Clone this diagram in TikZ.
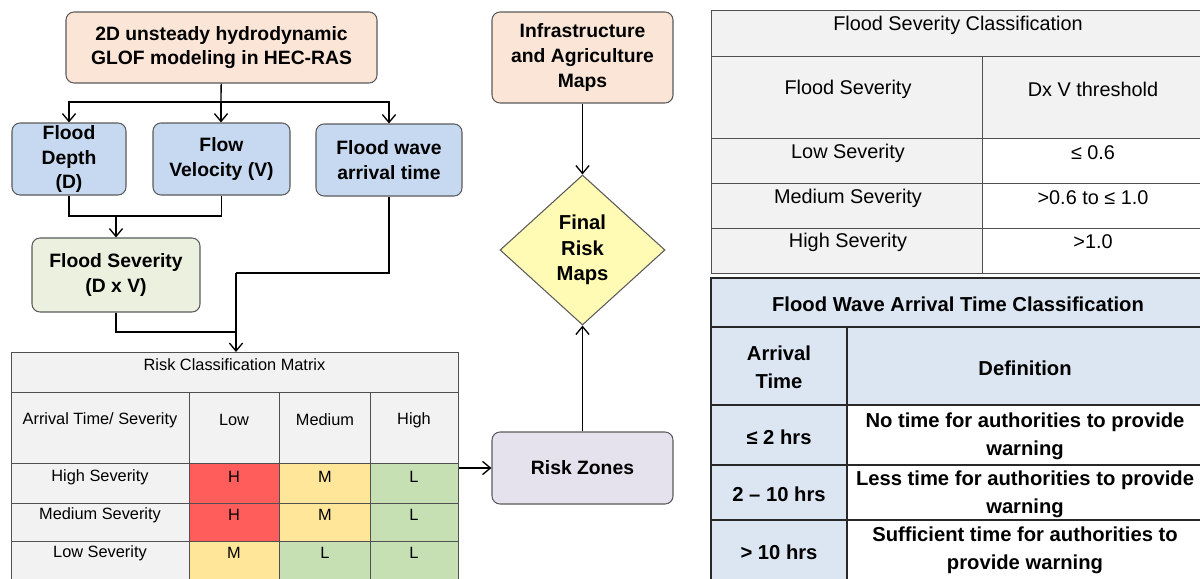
\documentclass[tikz,border=0pt]{standalone}
\usepackage{fontspec}
\setmainfont{Liberation Sans}
\usetikzlibrary{arrows.meta,shapes.geometric}
\definecolor{peach}{RGB}{251,229,214}
\definecolor{boxblue}{RGB}{198,217,241}
\definecolor{sevgreen}{RGB}{235,241,222}
\definecolor{zonelilac}{RGB}{229,225,237}
\definecolor{finalyel}{RGB}{255,250,180}
\definecolor{boxline}{RGB}{90,90,90}
\definecolor{cellgrey}{RGB}{242,242,242}
\definecolor{riskh}{RGB}{255,92,92}
\definecolor{riskm}{RGB}{255,230,153}
\definecolor{riskl}{RGB}{198,224,180}
\definecolor{wavecell}{RGB}{220,230,242}
\begin{document}
\begin{tikzpicture}[x=0.2mm,y=-0.2mm,
  flow/.style={rounded corners=1.6mm,draw=boxline,line width=0.6pt,align=center,inner sep=1pt,
    font=\fontsize{11}{14}\selectfont\bfseries},
  link/.style={line width=0.75pt,draw=black},
  tip/.style={-{Straight Barb[length=4.5pt,width=7.5pt]}},
  gridline/.style={draw={rgb,255:red,80;green,80;blue,80},line width=0.55pt},
  heavyline/.style={draw={rgb,255:red,40;green,40;blue,40},line width=1.1pt},
  rcm/.style={font=\fontsize{9.3}{11}\selectfont,inner sep=0pt},
  fsc/.style={font=\fontsize{11.3}{13}\selectfont,inner sep=0pt},
  fwa/.style={font=\fontsize{11.5}{16}\selectfont\bfseries,align=center,inner sep=0pt}]
 \useasboundingbox (0,0) rectangle (1200,578);
 % flow chart
 \node (box top) at (221.5,47.5) [flow,fill=peach,minimum width=62.2mm,minimum height=14.2mm] {2D unsteady hydrodynamic\\GLOF modeling in HEC-RAS};
 \node (box depth) at (69,159) [flow,fill=boxblue,minimum width=22.8mm,minimum height=14.4mm] {Flood\\Depth\\(D)};
 \node (box vel) at (221.5,159) [flow,fill=boxblue,minimum width=27.4mm,minimum height=14.4mm] {Flow\\Velocity (V)};
 \node (box wave) at (389,160) [flow,fill=boxblue,minimum width=29.2mm,minimum height=14.4mm] {Flood wave\\arrival time};
 \node (box sev) at (116,275) [flow,fill=sevgreen,minimum width=33.6mm,minimum height=14.8mm] {Flood Severity\\(D x V)};
 \node (box infra) at (582.5,57.5) [flow,fill=peach,minimum width=36.2mm,minimum height=18.2mm] {Infrastructure\\and Agriculture\\Maps};
 \node (box final) at (582.5,250) [diamond,draw=boxline,line width=0.6pt,fill=finalyel,minimum width=33mm,minimum height=30mm,inner sep=0pt,align=center,font=\fontsize{11.5}{14.5}\selectfont\bfseries] {Final\\Risk\\Maps};
 \node (box zones) at (582.5,468) [flow,fill=zonelilac,minimum width=36.2mm,minimum height=14.4mm] {Risk Zones};
 \coordinate (split) at (221,102);
 \coordinate (join a) at (116,216);
 \coordinate (join b) at (236,273);
 \coordinate (join c) at (236,332);
 \coordinate (rcm in) at (236,352);
 \coordinate (rcm out) at (458,468);
 \draw[link] (box top) -- (split);
 \draw[link,tip] (split) -| (box depth);
 \draw[link,tip] (split) -- (split |- box vel.north);
 \draw[link,tip] (split) -| (box wave);
 \draw[link] (box depth.south) |- (join a) -| (box vel.south);
 \draw[link,tip] (join a) -- (box sev);
 \draw[link] (box wave.south) |- (join b);
 \draw[link] (box sev.south) |- (join c);
 \draw[link,tip] (join b) -- (rcm in);
 \draw[link,tip] (rcm out) -- (box zones);
 \draw[link,tip] (box infra) -- (box final);
 \draw[link,tip] (box zones) -- (box final);
 % risk classification matrix
 \fill[cellgrey] (11,352) rectangle (458,463);
 \fill[cellgrey] (11,463) rectangle (189,580);
 \fill[riskh] (189,463) rectangle (279,541);
 \fill[riskm] (189,541) rectangle (279,580);
 \fill[riskm] (279,463) rectangle (370,541);
 \fill[riskl] (279,541) rectangle (370,580);
 \fill[riskl] (370,463) rectangle (458,580);
 \draw[gridline] (11,352) rectangle (458,580);
 \draw[gridline] (11,392) -- (458,392) (11,463) -- (458,463) (11,503) -- (458,503) (11,541) -- (458,541);
 \draw[gridline] (189,392) -- (189,580) (279,392) -- (279,580) (370,392) -- (370,580);
 \node (rcm 1) at (234.5,365) [rcm] {Risk Classification Matrix};
 \node (rcm 2) at (100,420) [rcm] {Arrival Time/ Severity};
 \node (rcm 3) at (234,420) [rcm] {Low};
 \node (rcm 4) at (325,420) [rcm] {Medium};
 \node (rcm 5) at (414,420) [rcm] {High};
 \node (rcm 6) at (100,477) [rcm] {High Severity};
 \node (rcm 7) at (234,477) [rcm] {H};
 \node (rcm 8) at (325,477) [rcm] {M};
 \node (rcm 9) at (414,477) [rcm] {L};
 \node (rcm 10) at (100,515) [rcm] {Medium Severity};
 \node (rcm 11) at (234,515) [rcm] {H};
 \node (rcm 12) at (325,515) [rcm] {M};
 \node (rcm 13) at (414,515) [rcm] {L};
 \node (rcm 14) at (100,553) [rcm] {Low Severity};
 \node (rcm 15) at (234,553) [rcm] {M};
 \node (rcm 16) at (325,553) [rcm] {L};
 \node (rcm 17) at (414,553) [rcm] {L};
 % flood severity classification
 \fill[cellgrey] (711,10) rectangle (1205,138);
 \fill[cellgrey] (711,138) rectangle (982,273);
 \draw[gridline] (711,10) rectangle (1205,273);
 \draw[gridline] (711,56) -- (1205,56) (711,138) -- (1205,138) (711,183) -- (1205,183) (711,228) -- (1205,228);
 \draw[gridline] (982,56) -- (982,273);
 \node (fsc 1) at (958,25) [fsc] {Flood Severity Classification};
 \node (fsc 2) at (848,89) [fsc] {Flood Severity};
 \node (fsc 3) at (1093,89) [fsc] {Dx V threshold};
 \node (fsc 4) at (848,153) [fsc] {Low Severity};
 \node (fsc 5) at (1093,153) [fsc] {≤ 0.6};
 \node (fsc 6) at (848,198) [fsc] {Medium Severity};
 \node (fsc 7) at (1093,198) [fsc] {>0.6 to ≤ 1.0};
 \node (fsc 8) at (848,242) [fsc] {High Severity};
 \node (fsc 9) at (1093,242) [fsc] {>1.0};
 % flood wave arrival time classification
 \fill[wavecell] (711,278) rectangle (1205,405);
 \fill[wavecell] (711,405) rectangle (847,580);
 \draw[heavyline] (711,278) rectangle (1205,580);
 \draw[heavyline] (711,327) -- (1205,327) (711,405) -- (1205,405) (711,465) -- (1205,465) (711,520) -- (1205,520);
 \draw[heavyline] (847,327) -- (847,580);
 \node (fwa 1) at (958,304) [fwa] {Flood Wave Arrival Time Classification};
 \node (fwa 2) at (779,367) [fwa] {Arrival\\Time};
 \node (fwa 3) at (1025,368) [fwa] {Definition};
 \node (fwa 4) at (779,437) [fwa] {≤ 2 hrs};
 \node (fwa 5) at (1025,436) [fwa] {No time for authorities to provide\\warning};
 \node (fwa 6) at (779,494) [fwa] {2 – 10 hrs};
 \node (fwa 7) at (1025,494) [fwa] {Less time for authorities to provide\\warning};
 \node (fwa 8) at (779,552) [fwa] {> 10 hrs};
 \node (fwa 9) at (1025,550) [fwa] {Sufficient time for authorities to\\provide warning};
\end{tikzpicture}
\end{document}
